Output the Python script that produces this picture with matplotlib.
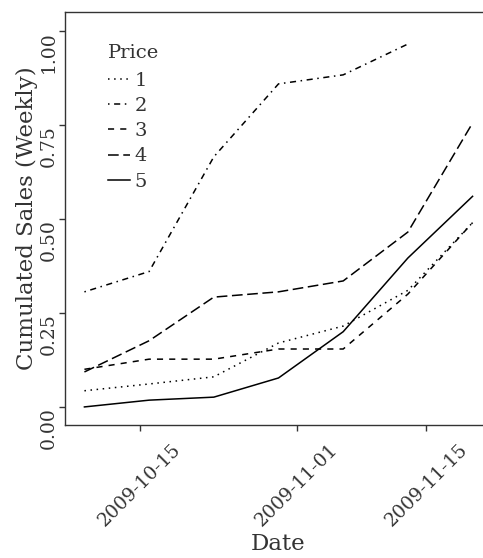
import numpy as np
import matplotlib
matplotlib.use("Agg")
from matplotlib import pyplot as plt
import matplotlib.dates as mdates
from datetime import date

dates = [date(2009, 10, 9), date(2009, 10, 16), date(2009, 10, 23), date(2009, 10, 30),
         date(2009, 11, 6), date(2009, 11, 13), date(2009, 11, 20)]

price_labels = ['1', '2', '3', '4', '5']
price_1 = [0.043, 0.061, 0.080, 0.170, 0.215, 0.310, 0.490]
price_2 = [0.306, 0.360, 0.665, 0.859, 0.883, 0.965, None]
price_3 = [0.100, 0.127, 0.127, 0.154, 0.154, 0.300, 0.490]
price_4 = [0.093, 0.176, 0.292, 0.306, 0.335, 0.465, 0.755]
price_5 = [0.000, 0.018, 0.026, 0.077, 0.200, 0.396, 0.560]

tick_dates = [date(2009, 10, 15), date(2009, 11, 1), date(2009, 11, 15)]
y_ticks = [0.0, 0.25, 0.5, 0.75, 1.0]

# R style line types (dotted, dotdash, dashed, longdash, solid)
line_dashes = [(1, 3), (1, 3, 4, 3), (4, 4), (7, 3), None]

txt_color = '#333333'
plt.rcParams['font.family'] = ['DejaVu Serif']

fig = plt.figure(figsize=(4.83, 5.58), dpi=100)
ax = fig.add_axes([0.1346, 0.2384, 0.884, 0.740])

series = [price_1, price_2, price_3, price_4, price_5]
for vals, lab, dash in zip(series, price_labels, line_dashes):
    y = np.array([np.nan if v is None else v for v in vals], dtype=float)
    line, = ax.plot(dates, y, color='black', linewidth=1.1, label=lab)
    if dash is not None:
        line.set_dashes(dash)

ax.set_ylim(-0.048, 1.05)
x0 = mdates.date2num(dates[0])
x1 = mdates.date2num(dates[-1])
pad = (x1 - x0) * 0.05
ax.set_xlim(x0 - pad, x1 + pad)

ax.set_yticks(y_ticks)
ax.set_yticklabels(['%.2f' % v for v in y_ticks], rotation=90, va='top', ha='right')
ax.set_xticks([mdates.date2num(d) for d in tick_dates])
ax.set_xticklabels([d.strftime('%Y-%m-%d') for d in tick_dates], rotation=45,
                   ha='center', va='top')

ax.tick_params(axis='both', direction='out', length=4, width=1, color=txt_color,
               labelsize=13.5, labelcolor=txt_color)
ax.tick_params(axis='x', pad=7)
ax.tick_params(axis='y', pad=1)

for sp in ax.spines.values():
    sp.set_color(txt_color)
    sp.set_linewidth(1.0)

ax.set_ylabel('Cumulated Sales (Weekly)', fontsize=16.5, color=txt_color)
ax.set_xlabel('Date', fontsize=16.5, color=txt_color)
ax.yaxis.set_label_coords(-0.09, 0.5)
ax.xaxis.set_label_coords(0.5, -0.288)
ax.xaxis.label.set_va('center')
ax.yaxis.label.set_va('center')

leg = ax.legend(title='Price', loc='upper left', bbox_to_anchor=(0.06, 0.965),
                frameon=False, fontsize=14, title_fontsize=14,
                handlelength=1.1, handletextpad=0.25, labelspacing=0.37,
                alignment='left')
leg._legend_box.sep = 7
for t in leg.get_texts():
    t.set_color(txt_color)
leg.get_title().set_color(txt_color)

fig.savefig('out.png', dpi=100)
